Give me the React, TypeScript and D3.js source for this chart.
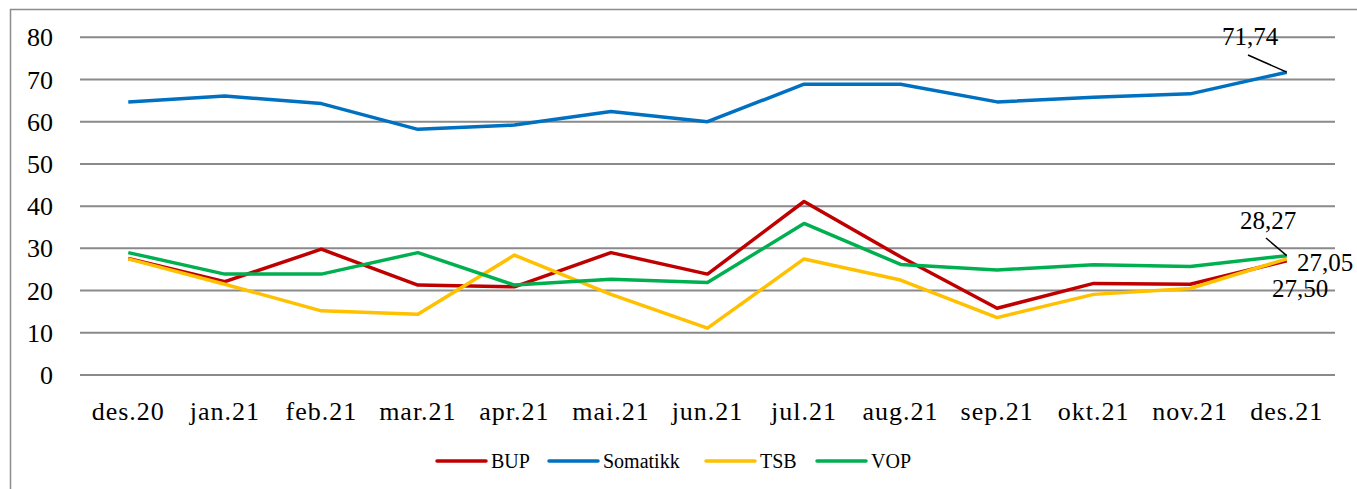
import React from "react";
import * as d3 from "d3";

// Chart data
const months = ["des.20", "jan.21", "feb.21", "mar.21", "apr.21", "mai.21", "jun.21", "jul.21", "aug.21", "sep.21", "okt.21", "nov.21", "des.21"];
const bup = [27.6, 22.1, 29.8, 21.3, 20.9, 29.0, 23.9, 41.1, 28.0, 15.8, 21.7, 21.5, 27.05];
const somatikk = [64.7, 66.1, 64.3, 58.2, 59.2, 62.4, 60.0, 68.9, 68.9, 64.7, 65.8, 66.6, 71.74];
const tsb = [27.5, 21.5, 15.2, 14.4, 28.4, 19.1, 11.1, 27.5, 22.5, 13.6, 19.1, 20.5, 27.5];
const vop = [29.0, 23.9, 23.9, 29.0, 21.3, 22.7, 21.9, 35.9, 26.2, 24.9, 26.1, 25.7, 28.27];
const yTicks = [0, 10, 20, 30, 40, 50, 60, 70, 80];

const series = [
  { name: "BUP", values: bup, color: "#C00000" },
  { name: "Somatikk", values: somatikk, color: "#0070C0" },
  { name: "TSB", values: tsb, color: "#FFC000" },
  { name: "VOP", values: vop, color: "#00B050" },
];

const W = 1357;
const H = 489;
const font = "'Liberation Serif', 'Times New Roman', serif";

export default function App() {
  const x = d3.scalePoint<string>().domain(months).range([80, 1335]).padding(0.5);
  const y = d3.scaleLinear().domain([0, 80]).range([375, 37.3]);
  const line = d3
    .line<number>()
    .x((d, i) => x(months[i]) as number)
    .y((d) => y(d));

  const last = months.length - 1;
  const xLast = x(months[last]) as number;

  // legend layout
  const legendPos = [437, 549, 706, 817];

  return (
    <svg width={W} height={H} style={{ position: "absolute", left: 0, top: 0, background: "#fff" }}>
      <rect x={10.5} y={9.5} width={1400} height={600} fill="none" stroke="#8c8c8c" strokeWidth={1.5} />

      {/* gridlines */}
      {yTicks.map((t) => (
        <line key={t} x1={80} x2={1335} y1={y(t)} y2={y(t)} stroke="#8a8a8a" strokeWidth={2} />
      ))}

      {/* y labels */}
      {yTicks.map((t) => (
        <text key={"l" + t} x={53} y={y(t)} dy="0.35em" textAnchor="end" fontFamily={font} fontSize={26} fill="#000">
          {t}
        </text>
      ))}

      {/* x labels */}
      {months.map((m) => (
        <text key={m} x={x(m)} y={420} textAnchor="middle" fontFamily={font} fontSize={26} letterSpacing={1} fill="#000">
          {m}
        </text>
      ))}

      {/* lines */}
      {series.map((s) => (
        <path key={s.name} d={line(s.values) || ""} fill="none" stroke={s.color} strokeWidth={3.5} strokeLinejoin="round" />
      ))}

      {/* data labels */}
      <line x1={1248} y1={55} x2={xLast} y2={y(somatikk[last])} stroke="#000" strokeWidth={1.5} />
      <text x={1250} y={45} textAnchor="middle" fontFamily={font} fontSize={25}>71,74</text>
      <line x1={1266} y1={238} x2={xLast} y2={y(vop[last])} stroke="#000" strokeWidth={1.5} />
      <text x={1268} y={229} textAnchor="middle" fontFamily={font} fontSize={25}>28,27</text>
      <text x={1297} y={271} fontFamily={font} fontSize={25}>27,05</text>
      <text x={1272} y={297} fontFamily={font} fontSize={25}>27,50</text>

      {/* legend */}
      {series.map((s, i) => (
        <g key={"lg" + s.name}>
          <line x1={legendPos[i]} x2={legendPos[i] + 49} y1={461} y2={461} stroke={s.color} strokeWidth={3.5} strokeLinecap="round" />
          <text x={legendPos[i] + 54} y={468} fontFamily={font} fontSize={20}>{s.name}</text>
        </g>
      ))}
    </svg>
  );
}
